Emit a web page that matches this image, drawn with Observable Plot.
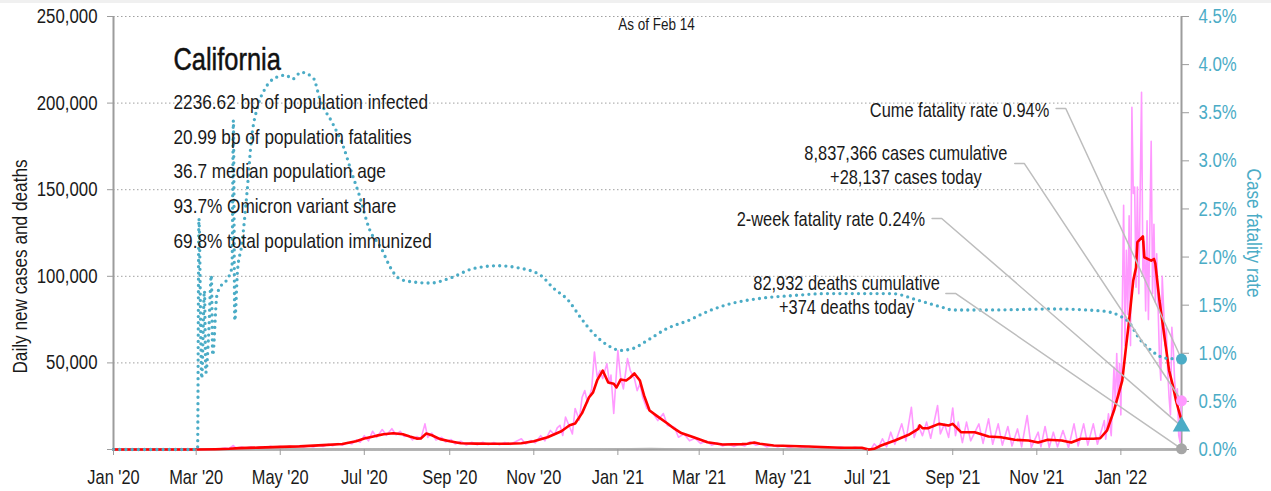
<!DOCTYPE html>
<html><head><meta charset="utf-8">
<script src="https://cdn.jsdelivr.net/npm/d3@7"></script>
<script src="https://cdn.jsdelivr.net/npm/@observablehq/plot@0.6"></script>
<style>
body{margin:0;background:#fff;}
#wrap{position:relative;width:1271px;height:491px;overflow:hidden;}
#strip{position:absolute;left:0;top:0;width:1271px;height:3px;background:#f0f0f0;}
</style></head><body><div id="wrap"><div id="strip"></div></div>
<script>
// ---------- data ----------
const xDomain = ["2020-01-01", "2022-02-14"];
const xTicks = ["2020-01-01","2020-03-01","2020-05-01","2020-07-01","2020-09-01","2020-11-01",
  "2021-01-01","2021-03-01","2021-05-01","2021-07-01","2021-09-01","2021-11-01","2022-01-01"];
const leftTicks = [0, 50000, 100000, 150000, 200000, 250000];
const rightTicks = [0, 0.5, 1, 1.5, 2, 2.5, 3, 3.5, 4, 4.5];

// 7-day average of new cases (red)
const casesAvg = [
["2020-01-01",0],["2020-03-01",0],["2020-03-15",150],["2020-03-25",400],["2020-04-01",800],["2020-04-15",1100],
["2020-05-01",1500],["2020-05-15",1800],["2020-06-01",2500],["2020-06-15",3200],["2020-06-25",4800],["2020-07-01",6300],
["2020-07-10",8000],["2020-07-15",8800],["2020-07-22",9400],["2020-07-29",8800],["2020-08-03",7500],["2020-08-08",6300],
["2020-08-11",6400],["2020-08-15",9200],["2020-08-19",8200],["2020-08-25",6000],["2020-09-01",4800],["2020-09-09",3650],
["2020-09-20",3400],["2020-10-01",3300],["2020-10-12",3300],["2020-10-23",3650],["2020-11-01",4800],["2020-11-11",7100],
["2020-11-21",10500],["2020-11-27",14000],["2020-12-01",15000],["2020-12-06",21000],["2020-12-11",30000],["2020-12-14",33000],
["2020-12-17",40000],["2020-12-21",45600],["2020-12-25",38700],["2020-12-29",38000],["2020-12-31",35800],["2021-01-03",40400],
["2021-01-07",39800],["2021-01-10",41600],["2021-01-13",43900],["2021-01-17",39800],["2021-01-20",31200],["2021-01-24",22500],
["2021-01-30",19000],["2021-02-06",15000],["2021-02-11",12000],["2021-02-16",9500],["2021-02-25",7100],["2021-03-07",4200],
["2021-03-18",2900],["2021-04-01",3100],["2021-04-05",3300],["2021-04-10",4000],["2021-04-14",3300],["2021-04-24",2300],
["2021-05-19",1700],["2021-06-12",1000],["2021-06-27",1000],["2021-07-02",0],["2021-07-06",400],["2021-07-11",2300],
["2021-07-21",5200],["2021-07-31",8500],["2021-08-07",11900],["2021-08-08",13900],["2021-08-10",12300],["2021-08-14",12300],
["2021-08-22",14800],["2021-08-29",13900],["2021-09-01",14800],["2021-09-07",10000],["2021-09-17",10000],["2021-09-27",7500],
["2021-10-06",7100],["2021-10-16",5600],["2021-10-26",5200],["2021-11-02",4000],["2021-11-09",5600],["2021-11-19",5200],
["2021-11-26",4000],["2021-12-03",6200],["2021-12-12",6200],["2021-12-17",6500],["2021-12-22",11000],["2021-12-27",22500],
["2021-12-31",34000],["2022-01-02",39800],["2022-01-05",61000],["2022-01-07",74500],["2022-01-10",97600],["2022-01-12",105000],
["2022-01-13",119700],["2022-01-17",123000],["2022-01-18",111000],["2022-01-23",109000],["2022-01-25",110000],["2022-01-26",107500],
["2022-01-29",86000],["2022-02-02",63000],["2022-02-05",45600],["2022-02-08",36000],["2022-02-10",28300],["2022-02-14",16700]
];

// daily new cases (pink)
const casesDaily = [
["2020-01-01",0],["2020-03-10",0],["2020-03-18",300],["2020-03-22",900],["2020-03-25",600],["2020-03-28",2300],["2020-03-30",700],
["2020-04-03",1400],["2020-04-06",800],["2020-04-10",1500],["2020-04-13",900],["2020-04-17",1600],["2020-04-20",1000],["2020-04-24",1900],
["2020-04-27",1100],["2020-05-01",1900],["2020-05-04",1200],["2020-05-08",2000],["2020-05-11",1300],["2020-05-15",2100],["2020-05-18",1400],
["2020-05-22",2200],["2020-05-25",1500],["2020-05-29",2600],["2020-06-01",1800],["2020-06-05",3000],["2020-06-08",2200],["2020-06-12",3400],
["2020-06-15",2500],["2020-06-19",4000],["2020-06-22",3200],["2020-06-25",5500],["2020-06-28",4200],["2020-07-01",8000],["2020-07-04",5000],
["2020-07-07",10500],["2020-07-10",7000],["2020-07-14",11500],["2020-07-17",8200],["2020-07-21",12000],["2020-07-24",8500],["2020-07-27",10500],
["2020-07-30",7500],["2020-08-02",8000],["2020-08-05",5500],["2020-08-08",7500],["2020-08-11",6000],["2020-08-14",14800],["2020-08-16",7000],
["2020-08-19",9500],["2020-08-22",5500],["2020-08-26",7000],["2020-08-29",4300],["2020-09-02",5800],["2020-09-05",3200],["2020-09-09",4800],
["2020-09-13",2600],["2020-09-17",4200],["2020-09-21",2700],["2020-09-25",4200],["2020-09-29",2800],["2020-10-03",4000],["2020-10-07",2700],
["2020-10-11",4100],["2020-10-15",2900],["2020-10-19",4600],["2020-10-23",6200],["2020-10-26",3200],["2020-10-30",5200],["2020-11-02",3800],
["2020-11-06",8000],["2020-11-09",5000],["2020-11-13",11000],["2020-11-16",8500],["2020-11-18",12500],["2020-11-20",14000],["2020-11-22",8100],
["2020-11-24",18700],["2020-11-27",13000],["2020-11-29",9000],["2020-12-01",23700],["2020-12-04",17000],["2020-12-06",30000],["2020-12-08",34000],
["2020-12-10",27000],["2020-12-13",35000],["2020-12-15",56200],["2020-12-17",41700],["2020-12-19",45600],["2020-12-21",41000],["2020-12-24",49600],
["2020-12-26",38000],["2020-12-27",43000],["2020-12-29",20800],["2021-01-01",57100],["2021-01-03",41700],["2021-01-05",35000],["2021-01-08",52500],
["2021-01-10",45600],["2021-01-13",41000],["2021-01-15",34000],["2021-01-17",38000],["2021-01-19",30200],["2021-01-22",23700],["2021-01-26",21500],
["2021-01-30",16700],["2021-02-03",20800],["2021-02-06",13900],["2021-02-11",12900],["2021-02-14",7100],["2021-02-18",9000],["2021-02-22",5000],
["2021-02-26",6500],["2021-03-02",3500],["2021-03-06",5000],["2021-03-10",2500],["2021-03-14",3800],["2021-03-18",2000],["2021-03-22",3200],
["2021-03-26",1800],["2021-03-30",3000],["2021-04-03",2000],["2021-04-07",4500],["2021-04-11",2500],["2021-04-15",3300],["2021-04-19",1500],
["2021-04-23",2600],["2021-04-27",1500],["2021-05-01",2300],["2021-05-05",1200],["2021-05-10",2100],["2021-05-15",1100],["2021-05-20",1900],
["2021-05-25",1000],["2021-06-01",1600],["2021-06-07",700],["2021-06-12",1400],["2021-06-17",600],["2021-06-22",1300],["2021-06-27",700],
["2021-07-01",0],["2021-07-04",600],["2021-07-06",3300],["2021-07-09",800],["2021-07-12",6200],["2021-07-15",1500],["2021-07-18",10000],
["2021-07-21",3000],["2021-07-26",14800],["2021-07-29",5000],["2021-08-02",24400],["2021-08-04",7000],["2021-08-07",13900],["2021-08-10",8000],
["2021-08-13",15800],["2021-08-16",6500],["2021-08-21",25400],["2021-08-23",9000],["2021-08-26",14800],["2021-08-29",7000],["2021-09-01",24000],
["2021-09-03",8000],["2021-09-05",15800],["2021-09-08",4000],["2021-09-11",15800],["2021-09-14",5000],["2021-09-20",14800],["2021-09-23",3500],
["2021-09-27",17700],["2021-09-30",3000],["2021-10-04",14800],["2021-10-07",2500],["2021-10-11",13300],["2021-10-14",2000],["2021-10-18",11900],
["2021-10-21",1500],["2021-10-25",19600],["2021-10-28",1200],["2021-11-02",10000],["2021-11-04",1500],["2021-11-07",13300],["2021-11-10",1200],
["2021-11-13",10000],["2021-11-16",1500],["2021-11-20",11000],["2021-11-24",1000],["2021-11-28",14800],["2021-12-01",2000],["2021-12-05",14800],
["2021-12-08",2500],["2021-12-12",14800],["2021-12-15",3000],["2021-12-20",16700],["2021-12-21",6000],["2021-12-23",20600],["2021-12-25",8000],
["2021-12-27",47500],["2021-12-28",25000],["2021-12-29",55400],["2021-12-30",30000],["2021-12-31",49600],["2022-01-01",20000],["2022-01-03",141000],
["2022-01-04",60000],["2022-01-05",115000],["2022-01-06",78000],["2022-01-07",135000],["2022-01-08",60000],["2022-01-09",197600],["2022-01-10",147800],
["2022-01-11",151500],["2022-01-12",93700],["2022-01-13",151500],["2022-01-14",90000],["2022-01-16",206300],["2022-01-17",100000],["2022-01-18",120000],
["2022-01-19",80000],["2022-01-20",132000],["2022-01-21",75000],["2022-01-23",178000],["2022-01-24",90000],["2022-01-25",130000],["2022-01-26",85000],
["2022-01-27",113000],["2022-01-29",53000],["2022-01-30",40000],["2022-01-31",100000],["2022-02-01",82000],["2022-02-02",60000],["2022-02-03",70000],
["2022-02-04",45000],["2022-02-05",30000],["2022-02-06",20000],["2022-02-07",70500],["2022-02-08",59000],["2022-02-09",40000],["2022-02-10",30000],
["2022-02-11",35000],["2022-02-12",8000],["2022-02-13",4200],["2022-02-14",28137]
];

// daily deaths (grey)
const deathsDaily = [
["2020-01-01",0],["2020-03-15",10],["2020-04-15",80],["2020-06-01",70],["2020-07-25",130],["2020-08-15",140],["2020-10-01",80],
["2020-11-15",50],["2020-12-15",200],["2021-01-10",500],["2021-01-25",550],["2021-02-15",350],["2021-03-15",120],["2021-04-15",50],
["2021-06-15",20],["2021-08-20",80],["2021-09-15",100],["2021-10-15",60],["2021-12-01",40],["2022-01-10",60],["2022-02-01",180],["2022-02-14",374]
];

// cumulative case fatality rate, % (teal dotted)
const fatalityRate = [
["2020-01-01",0],["2020-03-02",0],["2020-03-03",2.4],["2020-03-05",0.74],["2020-03-07",1.65],["2020-03-08",0.8],["2020-03-10",1.18],
["2020-03-12",1.81],["2020-03-13",0.98],["2020-03-16",1.6],["2020-03-19",1.7],["2020-03-24",1.78],["2020-03-27",1.9],["2020-03-28",3.42],
["2020-03-29",1.34],["2020-03-31",1.86],["2020-04-03",2.12],["2020-04-07",2.69],["2020-04-10",3.21],["2020-04-15",3.58],["2020-04-20",3.75],
["2020-04-27",3.86],["2020-05-05",3.89],["2020-05-10",3.85],["2020-05-16",3.92],["2020-05-25",3.86],["2020-05-30",3.63],["2020-06-08",3.39],
["2020-06-16",3.14],["2020-06-22",2.87],["2020-06-27",2.66],["2020-07-05",2.28],["2020-07-13",2.10],["2020-07-20",1.89],["2020-07-25",1.79],
["2020-08-01",1.75],["2020-08-18",1.73],["2020-09-01",1.78],["2020-09-18",1.88],["2020-10-06",1.91],["2020-10-20",1.89],["2020-11-06",1.81],
["2020-11-15",1.68],["2020-11-26",1.55],["2020-12-05",1.37],["2020-12-14",1.21],["2020-12-25",1.08],["2021-01-03",1.03],["2021-01-12",1.05],
["2021-01-22",1.13],["2021-02-06",1.26],["2021-02-21",1.34],["2021-03-08",1.44],["2021-03-25",1.52],["2021-04-14",1.57],["2021-05-08",1.60],
["2021-06-01",1.62],["2021-06-25",1.62],["2021-07-19",1.62],["2021-08-07",1.55],["2021-08-24",1.48],["2021-09-01",1.45],["2021-09-25",1.45],
["2021-11-12",1.46],["2021-12-18",1.44],["2021-12-31",1.39],["2022-01-07",1.32],["2022-01-14",1.16],["2022-01-23",1.03],["2022-02-02",0.95],
["2022-02-14",0.94]
];

// latest values shown with markers
const latestDate = "2022-02-14";
const cumeFatalityRate = 0.94;
const casesToday = 28137;
const twoWeekFatalityRate = 0.24;
const deathsToday = 374;

// texts
const title = "California";
const statsLines = ["2236.62 bp of population infected","20.99 bp of population fatalities","36.7 median population age",
  "93.7% Omicron variant share","69.8% total population immunized"];
const asOf = "As of Feb 14";
const annotationTexts = ["Cume fatality rate 0.94%","8,837,366 cases cumulative\n+28,137 cases today",
  "2-week fatality rate 0.24%","82,932 deaths cumulative\n+374 deaths today"];
const leftLabel = "Daily new cases and deaths";
const rightLabel = "Case fatality rate";

// ---------- chart ----------
const FONT = '"Liberation Sans",Arial,sans-serif';
const NARROW = 0.82; // horizontal condensing of all text
const parse = d3.utcParse("%Y-%m-%d");
const rows = arr => arr.map(([d, v]) => ({date: parse(d), value: v}));
const CASE_MAX = 250000, RATE_MAX = 4.5;
const rateToY = d3.scaleLinear([0, RATE_MAX], [0, CASE_MAX]);
const TEAL = "#4bacc6", PINK = "#ff99ff", RED = "#ff0000", AXIS = "#9c9c9c";
const last = parse(latestDate);

// annotation anchors (date, value) and leader polylines
const annPos = [
  {x: "2021-11-10", y: 196300, anchor: "end"},
  {x: "2021-07-29", y: 164600, anchor: "middle"},
  {x: "2021-08-12", y: 133400, anchor: "end"},
  {x: "2021-06-16", y: 89600, anchor: "middle"}
];
const annRows = annotationTexts.map((t, i) => ({text: t, date: parse(annPos[i].x), value: annPos[i].y, anchor: annPos[i].anchor}));
const leaderEnds = [rateToY(cumeFatalityRate), casesToday, rateToY(twoWeekFatalityRate), deathsToday];
const leaderStarts = [["2021-11-15","2021-11-22",196900],["2021-10-16","2021-10-23",165100],
                      ["2021-08-17","2021-08-24",133400],["2021-08-27","2021-09-03",90100]];
const leaderRows = leaderStarts.flatMap(([a, b, v], i) => [
  {id: i, date: parse(a), value: v}, {id: i, date: parse(b), value: v}, {id: i, date: last, value: leaderEnds[i]}]);

const textMarks = [
  Plot.text([title], {text: d => d, frameAnchor: "top-left", dx: 60, dy: 44, fontSize: 31, textAnchor: "start", lineAnchor: "middle", fill: "#111", stroke: "#111", strokeWidth: 0.5}),
  ...statsLines.map((s, i) => Plot.text([s], {text: d => d, frameAnchor: "top-left", dx: 60, dy: 85.7 + i * 34.75, fontSize: 21, textAnchor: "start", lineAnchor: "middle", fill: "#1a1a1a"})),
  Plot.text([asOf], {text: d => d, frameAnchor: "top", dx: 9, dy: 8, fontSize: 16.5, textAnchor: "middle", lineAnchor: "middle", fill: "#1a1a1a"}),
  ...annRows.map(r => Plot.text([r], {x: "date", y: "value", text: "text", textAnchor: r.anchor, lineAnchor: "middle", lineHeight: 1.2, fontSize: 20, fill: "#1a1a1a"})),
  Plot.text([leftLabel], {text: d => d, frameAnchor: "left", dx: -93, dy: 33.5, rotate: -90, fontSize: 21, textAnchor: "middle", lineAnchor: "middle", fill: "#1a1a1a"}),
  Plot.text([rightLabel], {text: d => d, frameAnchor: "right", dx: 72, dy: 0, rotate: 90, fontSize: 21, textAnchor: "middle", lineAnchor: "middle", fill: TEAL})
];

const chart = Plot.plot({
  width: 1271, height: 491,
  marginLeft: 113, marginRight: 90, marginTop: 16, marginBottom: 42,
  style: {fontFamily: FONT, fontSize: "20px", color: "#1a1a1a", background: "transparent", overflow: "visible"},
  x: {type: "utc", domain: xDomain.map(parse)},
  y: {domain: [0, CASE_MAX]},
  marks: [
    Plot.gridY(leftTicks.filter(v => v > 0), {stroke: "#a0a0a0", strokeOpacity: 1, strokeDasharray: "1.5,2.5"}),
    Plot.ruleX([parse(xDomain[0]), last], {stroke: AXIS, strokeWidth: 2}),
    Plot.ruleY([0], {stroke: AXIS, strokeWidth: 2.5}),
    Plot.line(rows(casesDaily), {x: "date", y: "value", stroke: PINK, strokeWidth: 1.6}),
    Plot.line(rows(deathsDaily), {x: "date", y: "value", stroke: "#b0b0b0", strokeWidth: 1.5}),
    Plot.line(rows(casesAvg), {x: "date", y: "value", stroke: RED, strokeWidth: 2.6}),
    Plot.line(rows(fatalityRate), {x: "date", y: d => rateToY(d.value), stroke: TEAL, strokeWidth: 3.3, strokeDasharray: "0,6.2", strokeLinecap: "round", curve: "monotone-x"}),
    Plot.line(leaderRows, {x: "date", y: "value", z: "id", stroke: "#bdbdbd", strokeWidth: 1.5}),
    Plot.axisY(leftTicks, {anchor: "left", tickFormat: v => v === 0 ? "" : d3.format(",")(v), tickSize: 6, tickPadding: 10, stroke: AXIS, fill: "#1a1a1a", fontSize: 20.5, label: null}),
    Plot.axisY(rightTicks.map(v => rateToY(v)), {anchor: "right", tickFormat: v => rateToY.invert(v).toFixed(1) + "%", tickSize: 7, tickPadding: 10, stroke: AXIS, fill: TEAL, fontSize: 20.5, label: null}),
    Plot.axisX(xTicks.map(parse), {tickFormat: d3.utcFormat("%b '%y"), tickSize: 6, tickPadding: 14, stroke: AXIS, fill: "#1a1a1a", fontSize: 20, label: null}),
    Plot.dot([{date: last, value: rateToY(cumeFatalityRate)}], {x: "date", y: "value", r: 5.5, fill: TEAL}),
    Plot.dot([{date: last, value: casesToday}], {x: "date", y: "value", r: 5.5, fill: PINK}),
    Plot.dot([{date: last, value: rateToY(twoWeekFatalityRate)}], {x: "date", y: "value", r: 6.5, symbol: "triangle", fill: TEAL}),
    Plot.dot([{date: last, value: deathsToday}], {x: "date", y: "value", r: 5.5, fill: "#a6a6a6"}),
    ...textMarks
  ]
});
document.getElementById("wrap").appendChild(chart);

// condense every text horizontally around its own anchor point
chart.querySelectorAll("text").forEach(t => {
  const x = +(t.getAttribute("x") || 0), y = +(t.getAttribute("y") || 0);
  let tr = t.getAttribute("transform") || "";
  if (x || y) { tr = `translate(${x},${y}) ` + tr; t.removeAttribute("x"); t.removeAttribute("y"); }
  t.setAttribute("transform", `${tr} scale(${NARROW},1)`);
});
</script></body></html>
